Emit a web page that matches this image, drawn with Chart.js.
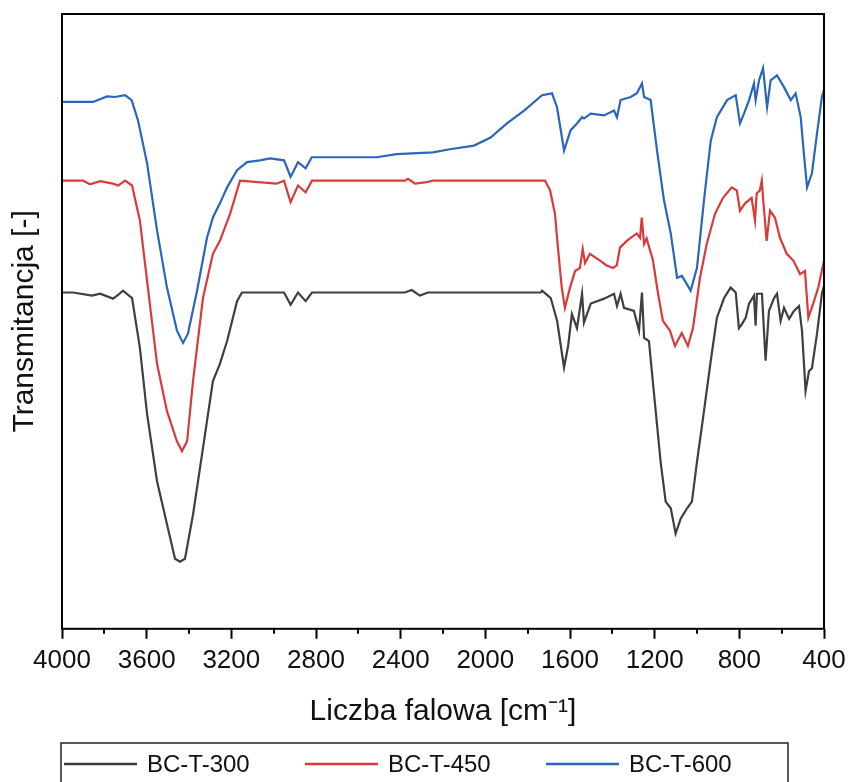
<!DOCTYPE html>
<html>
<head>
<meta charset="utf-8">
<title>FTIR BC-T</title>
<script src="https://cdn.jsdelivr.net/npm/chart.js@4"></script>
<style>
    html, body { margin: 0; padding: 0; background: #fff; overflow: hidden; }
    #chartWrap { width: 848px; height: 782px; }
</style>
</head>
<body>
<div id="chartWrap"><canvas id="ftirChart" width="848" height="782"></canvas></div>
<script>
// ============================================
// FTIR spectra of BC-T samples (transmittance, arbitrary units)
// ============================================

const seriesLabels = ['BC-T-300', 'BC-T-450', 'BC-T-600'];
const seriesColors = ['#3f3f3f', '#d93a3a', '#2a66bd'];

const majorTicks = [4000, 3600, 3200, 2800, 2400, 2000, 1600, 1200, 800, 400];
const minorTicks = [3800, 3400, 3000, 2600, 2200, 1800, 1400, 1000, 600];

// BC-T-300
const wn300 = [4000, 3948, 3858, 3820, 3759, 3735, 3712, 3669, 3632, 3598,
    3551, 3504, 3466, 3443, 3419, 3381, 3334, 3287, 3254, 3220,
    3173, 3150, 2951, 2920, 2885, 2849, 2819, 2380, 2348, 2309,
    2271, 1738, 1732, 1691, 1661, 1628, 1609, 1591, 1567, 1543,
    1534, 1502, 1439, 1392, 1378, 1361, 1345, 1298, 1274, 1260,
    1250, 1227, 1203, 1172, 1148, 1124, 1101, 1077, 1047, 1024,
    1000, 967, 935, 906, 872, 841, 817, 802, 787, 770,
    754, 731, 723, 717, 693, 676, 660, 636, 622, 605,
    589, 565, 542, 518, 504, 487, 471, 457, 433, 410, 400];
const t300 = [54.7, 54.7, 54.2, 54.5, 53.7, 54.3, 55.0, 53.8, 45.7, 34.9,
    24.0, 17.0, 11.4, 10.9, 11.4, 18.6, 29.4, 40.3, 43.1, 46.8,
    53.3, 54.7, 54.7, 52.7, 54.7, 53.3, 54.7, 54.7, 55.1, 54.2,
    54.7, 54.7, 55.0, 53.8, 50.1, 42.5, 46.0, 51.2, 48.9, 54.5,
    49.8, 52.9, 53.7, 54.5, 52.5, 54.5, 52.2, 51.7, 48.5, 54.7,
    47.3, 46.8, 38.2, 27.2, 20.7, 19.6, 15.5, 17.9, 19.6, 20.7,
    27.2, 35.4, 43.6, 50.6, 53.8, 55.5, 54.7, 48.9, 49.6, 50.6,
    52.9, 54.2, 49.3, 54.5, 54.5, 43.6, 51.7, 53.8, 54.5, 50.1,
    52.2, 50.4, 51.7, 52.5, 48.5, 38.7, 41.9, 42.4, 48.0, 54.5, 55.8];

// BC-T-450
const wn450 = [4000, 3901, 3868, 3820, 3759, 3735, 3702, 3669, 3632, 3598,
    3551, 3504, 3457, 3433, 3409, 3381, 3334, 3287, 3254, 3206,
    3159, 2986, 2951, 2920, 2885, 2849, 2819, 2380, 2365, 2332,
    2285, 2247, 1718, 1694, 1671, 1657, 1639, 1624, 1600, 1576,
    1553, 1540, 1529, 1506, 1458, 1427, 1397, 1379, 1364, 1332,
    1285, 1269, 1261, 1250, 1238, 1208, 1184, 1161, 1128, 1104,
    1072, 1043, 1019, 986, 954, 915, 877, 836, 812, 797,
    773, 742, 726, 718, 703, 694, 687, 671, 655, 632,
    608, 576, 545, 513, 490, 474, 451, 427, 400];
const t450 = [72.9, 72.9, 72.3, 72.8, 72.4, 72.1, 72.9, 72.1, 66.4, 56.6,
    43.1, 35.4, 30.5, 28.9, 30.5, 40.3, 53.8, 61.0, 63.1, 67.5,
    72.9, 72.4, 72.9, 69.4, 72.1, 71.0, 72.9, 72.9, 73.2, 72.4,
    72.6, 72.9, 72.9, 71.3, 67.5, 62.0, 55.5, 52.2, 55.5, 58.2,
    58.7, 61.8, 59.5, 61.0, 59.9, 59.1, 58.7, 59.1, 62.0, 63.1,
    64.3, 63.6, 66.9, 62.6, 63.5, 59.9, 54.5, 50.1, 48.5, 46.0,
    48.1, 46.0, 48.9, 57.1, 62.6, 67.5, 70.1, 71.8, 71.3, 68.0,
    69.2, 70.1, 66.4, 70.8, 71.3, 72.9, 69.7, 63.1, 68.0, 66.9,
    63.6, 61.0, 59.9, 57.7, 58.2, 50.6, 52.9, 55.5, 59.9];

// BC-T-600
const wn600 = [4000, 3854, 3787, 3750, 3702, 3671, 3641, 3598, 3551, 3504,
    3457, 3428, 3405, 3362, 3315, 3287, 3254, 3220, 3173, 3126,
    3065, 3017, 2951, 2920, 2885, 2849, 2820, 2513, 2419, 2247,
    2167, 2054, 1975, 1898, 1817, 1732, 1685, 1661, 1628, 1597,
    1567, 1543, 1534, 1502, 1439, 1392, 1378, 1361, 1313, 1284,
    1260, 1250, 1219, 1189, 1156, 1124, 1094, 1071, 1030, 1000,
    967, 935, 906, 858, 817, 797, 778, 754, 731, 723,
    707, 688, 669, 652, 622, 589, 557, 534, 510, 495,
    480, 457, 433, 410, 400];
const t600 = [85.7, 85.7, 86.6, 86.5, 86.8, 86.0, 82.7, 75.7, 64.8, 55.5,
    48.5, 46.5, 48.0, 55.0, 63.6, 66.9, 69.2, 71.8, 74.6, 75.9,
    76.2, 76.5, 76.2, 73.5, 75.9, 74.9, 76.7, 76.7, 77.2, 77.5,
    78.0, 78.6, 79.9, 82.2, 84.3, 86.8, 87.1, 84.8, 77.8, 81.1,
    82.2, 83.2, 83.0, 83.8, 83.5, 84.3, 83.2, 86.0, 86.5, 87.1,
    88.7, 86.5, 86.0, 77.8, 69.7, 64.3, 57.1, 57.4, 55.0, 58.7,
    69.7, 79.4, 83.2, 86.0, 86.8, 82.2, 83.8, 86.0, 88.7, 86.0,
    89.2, 91.2, 84.8, 89.2, 90.0, 88.1, 86.0, 87.1, 83.2, 77.3,
    71.8, 74.1, 80.6, 86.5, 87.6];

const FONT = '"Liberation Sans", Arial, sans-serif';

function toPoints(wn, t) {
    return wn.map((w, i) => ({ x: w, y: t[i] }));
}

// frame around plot + short minor ticks
const framePlugin = {
    id: 'frame',
    afterDraw(chart) {
        const { ctx, chartArea } = chart;
        const xs = chart.scales.x;
        ctx.save();
        ctx.strokeStyle = '#000';
        ctx.lineWidth = 2;
        ctx.strokeRect(chartArea.left, chartArea.top,
            chartArea.right - chartArea.left, chartArea.bottom - chartArea.top);
        ctx.beginPath();
        minorTicks.forEach(w => {
            const px = Math.round(xs.getPixelForValue(w));
            ctx.moveTo(px, chartArea.bottom);
            ctx.lineTo(px, chartArea.bottom + 5);
        });
        ctx.stroke();
        ctx.restore();
    }
};

// boxed legend under the axis title
const boxLegend = {
    id: 'boxLegend',
    afterDraw(chart) {
        const ctx = chart.ctx;
        ctx.save();
        ctx.strokeStyle = '#222';
        ctx.lineWidth = 1.5;
        ctx.strokeRect(61, 743, 727, 80);
        ctx.font = '24px ' + FONT;
        ctx.textBaseline = 'middle';
        chart.data.datasets.forEach((ds, i) => {
            const x0 = 64 + i * 241;
            ctx.strokeStyle = ds.borderColor;
            ctx.lineWidth = 2.5;
            ctx.beginPath();
            ctx.moveTo(x0, 764);
            ctx.lineTo(x0 + 73, 764);
            ctx.stroke();
            ctx.fillStyle = '#111';
            ctx.fillText(ds.label, x0 + 83, 765);
        });
        ctx.restore();
    }
};

document.addEventListener('DOMContentLoaded', () => {
    const ctx = document.getElementById('ftirChart').getContext('2d');
    new Chart(ctx, {
        type: 'line',
        data: {
            datasets: [
                { label: seriesLabels[0], data: toPoints(wn300, t300), borderColor: seriesColors[0] },
                { label: seriesLabels[1], data: toPoints(wn450, t450), borderColor: seriesColors[1] },
                { label: seriesLabels[2], data: toPoints(wn600, t600), borderColor: seriesColors[2] }
            ]
        },
        options: {
            responsive: false,
            animation: false,
            layout: { padding: { top: 14, right: 24, left: 7, bottom: 52 } },
            elements: {
                line: { borderWidth: 2.2, tension: 0, fill: false },
                point: { radius: 0 }
            },
            plugins: {
                legend: { display: false },
                tooltip: { enabled: false }
            },
            scales: {
                x: {
                    type: 'linear',
                    reverse: true,
                    min: 400,
                    max: 4000,
                    afterBuildTicks: scale => {
                        scale.ticks = majorTicks.map(v => ({ value: v }));
                    },
                    // let "400" hang over the right margin like the original
                    afterFit: scale => {
                        scale.paddingRight = 0;
                    },
                    ticks: {
                        autoSkip: false,
                        maxRotation: 0,
                        padding: 6,
                        color: '#111',
                        font: { family: FONT, size: 26 },
                        callback: v => String(v)
                    },
                    grid: {
                        drawOnChartArea: false,
                        drawTicks: true,
                        tickLength: 10,
                        tickWidth: 2,
                        tickColor: '#000',
                        color: '#000'
                    },
                    border: { display: false },
                    title: {
                        display: true,
                        text: 'Liczba falowa [cm⁻¹]',
                        color: '#111',
                        font: { family: FONT, size: 30 },
                        padding: { top: 12, bottom: 0 }
                    }
                },
                y: {
                    min: 0,
                    max: 100,
                    ticks: { display: false },
                    grid: { display: false, drawTicks: false },
                    border: { display: false },
                    title: {
                        display: true,
                        text: 'Transmitancja [-]',
                        color: '#111',
                        font: { family: FONT, size: 30 },
                        padding: { top: 0, bottom: 19 }
                    }
                }
            }
        },
        plugins: [framePlugin, boxLegend]
    });
});
</script>
</body>
</html>
